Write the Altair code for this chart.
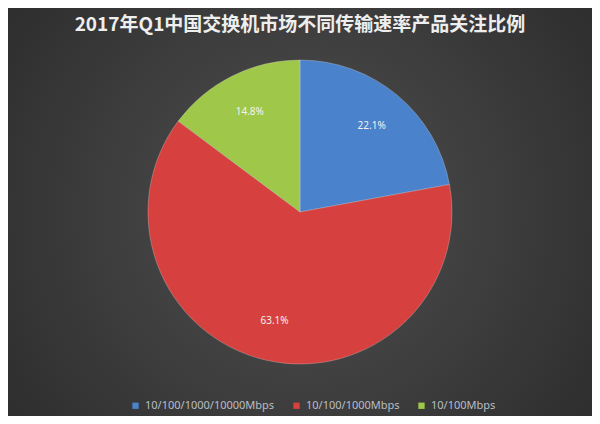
import altair as alt
import pandas as pd

categories = ["10/100/1000/10000Mbps", "10/100/1000Mbps", "10/100Mbps"]
shares = [22.1, 63.1, 14.8]
labels = ["22.1%", "63.1%", "14.8%"]
colors = ["#4a82cc", "#d6403e", "#9fc84a"]
title_text = "2017年Q1中国交换机市场不同传输速率产品关注比例"

df = pd.DataFrame({"category": categories, "share": shares, "label": labels, "order": [0, 1, 2]})

W, H = 584, 408
R = 152

bg = alt.Chart(pd.DataFrame({"a": [0]})).mark_rect(
    fill=alt.RadialGradient(
        gradient="radial",
        stops=[alt.GradientStop(offset=0, color="#505050"),
               alt.GradientStop(offset=1, color="#262626")],
        x1=0.5, y1=0.5, r1=0, x2=0.5, y2=0.5, r2=0.75,
    )
).encode(x=alt.value(0), x2=alt.value(W), y=alt.value(0), y2=alt.value(H))

arc = alt.Chart(df).mark_arc(outerRadius=R, stroke="#dddddd", strokeWidth=0.6, strokeOpacity=0.5).encode(
    theta=alt.Theta("share:Q", stack=True),
    order=alt.Order("order:Q"),
    color=alt.Color("category:N", sort=categories,
                    scale=alt.Scale(domain=categories, range=colors),
                    legend=alt.Legend(title=None, orient="none", legendX=122, legendY=392,
                                      direction="horizontal", symbolType="square",
                                      symbolSize=40, symbolStrokeWidth=0,
                                      labelColor="#b8bec6", labelFontSize=11,
                                      labelFont="Noto Sans", columnPadding=16)),
)

txt = alt.Chart(df).mark_text(radius=112, fontSize=10, color="#f2f2f2", font="Noto Sans").encode(
    theta=alt.Theta("share:Q", stack=True),
    order=alt.Order("order:Q"),
    text="label:N",
)

title = alt.Chart(pd.DataFrame({"t": [title_text]})).mark_text(
    fontSize=19, fontWeight="bold", color="#eeeeee", font="Noto Sans CJK SC",
    align="center", baseline="middle"
).encode(x=alt.value(W / 2), y=alt.value(17), text="t:N")

chart = alt.layer(bg, arc, txt, title).properties(
    width=W, height=H, padding=0, autosize=alt.AutoSizeParams(type="none"),
    background="#2a2a2a"
).configure_view(stroke=None)

chart.save("out.html", embed_options={"renderer": "svg", "actions": False})
